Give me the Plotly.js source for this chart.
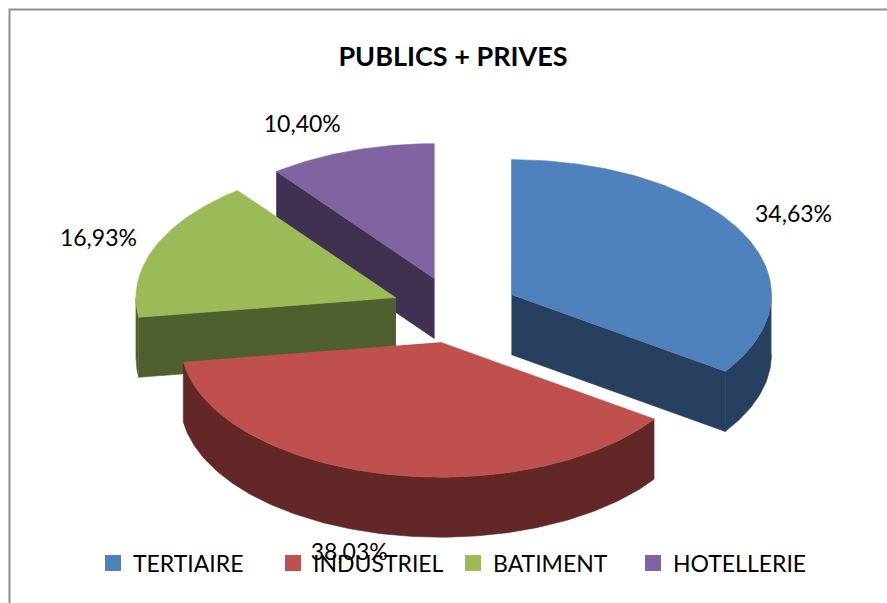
<!DOCTYPE html>
<html>
<head>
<meta charset="utf-8">
<script src="https://cdn.plot.ly/plotly-3.0.1.min.js"></script>
<style>html,body{margin:0;padding:0;background:#fff;}#chart{width:887px;height:603px;}</style>
</head>
<body>
<div id="chart"></div>
<script>
// ---- data ----
const categories = ["TERTIAIRE", "INDUSTRIEL", "BATIMENT", "HOTELLERIE"];
const values = [34.63, 38.03, 16.93, 10.40];
const chartTitle = "PUBLICS + PRIVES";

// ---- style ----
const topColors  = ["#4f81bd", "#c0504d", "#9bbb59", "#8064a2"];
const sideColors = ["#27405f", "#622726", "#4f602e", "#403152"];
const FONT = "Lato, 'Open Sans', sans-serif";
const geom = {cx: 455, cy: 310, a: 260, b: 135, depth: 60, explode: 0.245, step: 1};
const labelRadius = [[1.47, 1.5], [1.79, 1.86], [1.48, 1.38], [1.83, 1.44]];

// ---- geometry from values (pixel-space axes) ----
const total = values.reduce((s, v) => s + v, 0);
const rad = d => d * Math.PI / 180;
function rim(P, th, dz) { return [P[0] + geom.a * Math.sin(rad(th)), P[1] - geom.b * Math.cos(rad(th)) + (dz || 0)]; }

let acc = 0;
const slices = values.map((v, i) => {
  const s = acc / total * 360; acc += v; const e = acc / total * 360;
  const m = (s + e) / 2;
  const P = [geom.cx + geom.explode * geom.a * Math.sin(rad(m)), geom.cy - geom.explode * geom.b * Math.cos(rad(m))];
  return {i, s, e, m, P};
});

function arc(P, t1, t2, dz) {
  const pts = []; const n = Math.max(2, Math.ceil(Math.abs(t2 - t1) / geom.step));
  for (let k = 0; k <= n; k++) pts.push(rim(P, t1 + (t2 - t1) * k / n, dz));
  return pts;
}
function poly(pts, color) {
  return {type: "scatter", mode: "lines", x: pts.map(p => p[0]), y: pts.map(p => p[1]),
    fill: "toself", fillcolor: color, line: {color: color, width: 0.6}, hoverinfo: "skip", showlegend: false};
}

const traces = [];
// painter's order: back slices first
const order = slices.slice().sort((p, q) => Math.cos(rad(q.m)) - Math.cos(rad(p.m)));
order.forEach(sl => {
  const {P, s, e, i} = sl; const D = geom.depth;
  if (Math.sin(rad(s)) < -1e-6) {
    const r = rim(P, s); traces.push(poly([P, r, [r[0], r[1] + D], [P[0], P[1] + D]], sideColors[i]));
  }
  if (Math.sin(rad(e)) > 1e-6) {
    const r = rim(P, e); traces.push(poly([P, r, [r[0], r[1] + D], [P[0], P[1] + D]], sideColors[i]));
  }
  const w1 = Math.max(s, 90), w2 = Math.min(e, 270);
  if (w2 > w1) {
    const top = arc(P, w1, w2, 0), bot = arc(P, w2, w1, D);
    traces.push(poly(top.concat(bot), sideColors[i]));
  }
  traces.push(poly([P].concat(arc(P, s, e, 0)), topColors[i]));
});

// data labels
const fmt = v => v.toFixed(2).replace(".", ",") + "%";
traces.push({type: "scatter", mode: "text",
  x: slices.map(sl => geom.cx + labelRadius[sl.i][0] * geom.a * Math.sin(rad(sl.m))),
  y: slices.map(sl => geom.cy - labelRadius[sl.i][1] * geom.b * Math.cos(rad(sl.m))),
  text: values.map(fmt), textfont: {family: FONT, size: 23, color: "#000"},
  hoverinfo: "skip", showlegend: false});

// legend entries
categories.forEach((c, i) => traces.push({type: "scatter", mode: "markers", x: [null], y: [null], name: c,
  marker: {symbol: "square", size: 17, color: topColors[i]}, hoverinfo: "skip", legendrank: i + 1}));

const layout = {
  width: 887, height: 603, margin: {l: 0, r: 0, t: 0, b: 0},
  paper_bgcolor: "#fff", plot_bgcolor: "#fff",
  xaxis: {range: [0, 887], visible: false, fixedrange: true},
  yaxis: {range: [603, 0], visible: false, fixedrange: true},
  title: {text: "<b>" + chartTitle + "</b>", x: 453 / 887, xanchor: "center", y: 1 - 57 / 603, yanchor: "middle",
    font: {family: FONT, size: 27, color: "#000"}},
  showlegend: true,
  legend: {orientation: "h", x: 93 / 887, xanchor: "left", y: 1 - 563 / 603, yanchor: "middle",
    entrywidth: 135, entrywidthmode: "pixels",
    font: {family: FONT, size: 23, color: "#000"}, bgcolor: "rgba(0,0,0,0)", itemclick: false, itemdoubleclick: false},
  shapes: [{type: "rect", xref: "x", yref: "y", x0: 9.5, y0: 9.5, x1: 1000, y1: 1000,
    line: {color: "#8f8f8f", width: 2}, fillcolor: "rgba(0,0,0,0)", layer: "below"}]
};

Plotly.newPlot("chart", traces, layout, {displayModeBar: false, staticPlot: true});
</script>
</body>
</html>
